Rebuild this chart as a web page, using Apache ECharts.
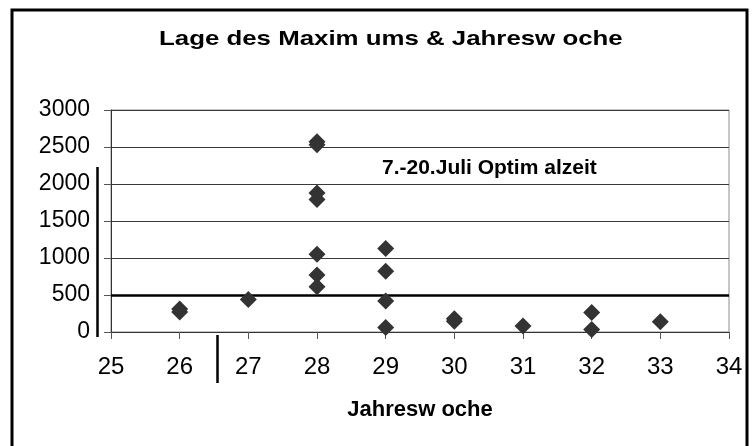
<!DOCTYPE html>
<html>
<head>
<meta charset="utf-8">
<script src="https://cdn.jsdelivr.net/npm/echarts@6/dist/echarts.min.js"></script>
<style>
html,body{margin:0;padding:0;background:#fff;}
#c{width:756px;height:446px;}
</style>
</head>
<body>
<div id="c"></div>
<script>
// Data
var weeks  = [26, 26, 27, 28, 28, 28, 28, 28, 28, 28, 29, 29, 29, 29, 30, 30, 31, 32, 32, 33];
var maxima = [310, 270, 440, 2570, 2530, 1880, 1790, 1050, 770, 610, 1130, 820, 420, 60, 180, 145, 80, 265, 35, 140];
var xTicks = [25, 26, 27, 28, 29, 30, 31, 32, 33, 34];
var yTicks = [0, 500, 1000, 1500, 2000, 2500, 3000];
var thresholdValue = 500;
var titleText = 'Lage des Maxim ums & Jahresw oche';
var xAxisTitle = 'Jahresw oche';
var noteText = '7.-20.Juli Optim alzeit';

var points = weeks.map(function (w, i) { return [w, maxima[i]]; });
var FONT = 'Arial, "Liberation Sans", sans-serif';

var chart = echarts.init(document.getElementById('c'), null, {renderer: 'canvas'});
chart.setOption({
  animation: false,
  backgroundColor: '#ffffff',
  grid: {left: 111, right: 27, top: 110, bottom: 114, show: true, borderColor: '#8c8c8c', borderWidth: 1, backgroundColor: 'transparent'},
  xAxis: {
    type: 'value',
    min: xTicks[0], max: xTicks[xTicks.length - 1], interval: 1,
    name: xAxisTitle, nameLocation: 'middle', nameGap: 67,
    nameTextStyle: {fontFamily: FONT, fontSize: 22, fontWeight: 'bold', color: '#000'},
    axisLine: {show: true, onZero: false, lineStyle: {color: '#333', width: 1}},
    axisTick: {show: true, inside: false, length: 7, lineStyle: {color: '#555'}},
    axisLabel: {margin: 23, fontFamily: FONT, fontSize: 24, color: '#000', formatter: function (v) { return String(v); }},
    splitLine: {show: false}
  },
  yAxis: {
    type: 'value',
    min: yTicks[0], max: yTicks[yTicks.length - 1], interval: 500,
    axisLine: {show: true, onZero: false, lineStyle: {color: '#333', width: 1}},
    axisTick: {show: true, inside: false, length: 7, lineStyle: {color: '#555'}},
    axisLabel: {margin: 21, fontFamily: FONT, fontSize: 23, color: '#000', formatter: function (v) { return String(v); }},
    splitLine: {show: true, lineStyle: {color: '#3a3a3a', width: 1}}
  },
  series: [{
    type: 'scatter',
    data: points,
    symbol: 'diamond',
    symbolSize: [17, 17],
    itemStyle: {color: '#333333', opacity: 1},
    z: 5,
    markLine: {
      silent: true,
      symbol: ['none', 'none'],
      label: {show: false},
      lineStyle: {color: '#000', width: 2.5, type: 'solid'},
      data: [{yAxis: thresholdValue}],
      z: 3
    }
  }],
  graphic: [
    {type: 'rect', shape: {x: 12, y: 10, width: 735, height: 445}, style: {fill: 'none', stroke: '#000', lineWidth: 3}, z: 0},
    {type: 'text', x: 159, y: 39, scaleX: 1.23, style: {text: titleText, font: 'bold 21px ' + FONT, fill: '#000', align: 'left', verticalAlign: 'middle'}},
    {type: 'text', x: 382, y: 168, style: {text: noteText, font: 'bold 21px ' + FONT, fill: '#000', align: 'left', verticalAlign: 'middle'}, z: 10},
    {type: 'line', shape: {x1: 97.5, y1: 167, x2: 97.5, y2: 337}, style: {stroke: '#000', lineWidth: 2.5}},
    {type: 'line', shape: {x1: 217.5, y1: 335, x2: 217.5, y2: 383}, style: {stroke: '#000', lineWidth: 2.5}}
  ]
});
</script>
</body>
</html>
